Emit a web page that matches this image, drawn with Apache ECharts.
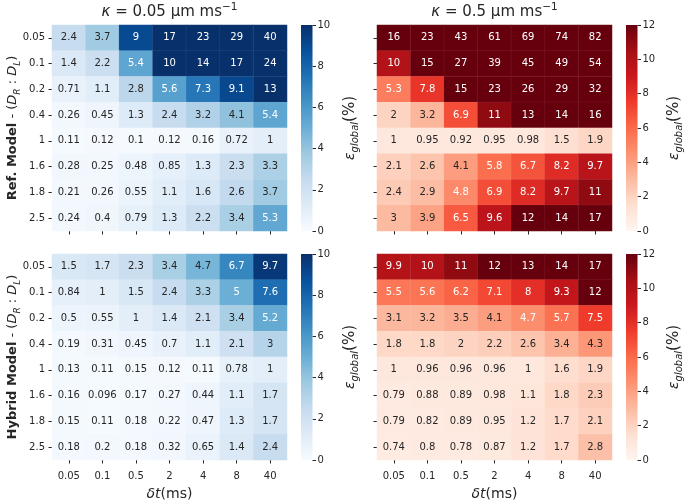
<!DOCTYPE html>
<html><head><meta charset="utf-8">
<script src="https://cdn.jsdelivr.net/npm/echarts@6/dist/echarts.min.js"></script>
<style>html,body{margin:0;padding:0;background:#fff}#c{width:685px;height:503px}</style>
</head><body><div id="c"></div>
<script>
// ---------------- data ----------------
const dtLabels = ['0.05', '0.1', '0.5', '2', '4', '8', '40'];
const ratioLabels = ['0.05', '0.1', '0.2', '0.4', '1', '1.6', '1.8', '2.5'];

const refK005 = [
  [2.4, 3.7, 9, 17, 23, 29, 40],
  [1.4, 2.2, 5.4, 10, 14, 17, 24],
  [0.71, 1.1, 2.8, 5.6, 7.3, 9.1, 13],
  [0.26, 0.45, 1.3, 2.4, 3.2, 4.1, 5.4],
  [0.11, 0.12, 0.1, 0.12, 0.16, 0.72, 1],
  [0.28, 0.25, 0.48, 0.85, 1.3, 2.3, 3.3],
  [0.21, 0.26, 0.55, 1.1, 1.6, 2.6, 3.7],
  [0.24, 0.4, 0.79, 1.3, 2.2, 3.4, 5.3]
];
const refK05 = [
  [16, 23, 43, 61, 69, 74, 82],
  [10, 15, 27, 39, 45, 49, 54],
  [5.3, 7.8, 15, 23, 26, 29, 32],
  [2, 3.2, 6.9, 11, 13, 14, 16],
  [1, 0.95, 0.92, 0.95, 0.98, 1.5, 1.9],
  [2.1, 2.6, 4.1, 5.8, 6.7, 8.2, 9.7],
  [2.4, 2.9, 4.8, 6.9, 8.2, 9.7, 11],
  [3, 3.9, 6.5, 9.6, 12, 14, 17]
];
const hybK005 = [
  [1.5, 1.7, 2.3, 3.4, 4.7, 6.7, 9.7],
  [0.84, 1, 1.5, 2.4, 3.3, 5, 7.6],
  [0.5, 0.55, 1, 1.4, 2.1, 3.4, 5.2],
  [0.19, 0.31, 0.45, 0.7, 1.1, 2.1, 3],
  [0.13, 0.11, 0.15, 0.12, 0.11, 0.78, 1],
  [0.16, 0.096, 0.17, 0.27, 0.44, 1.1, 1.7],
  [0.15, 0.11, 0.18, 0.22, 0.47, 1.3, 1.7],
  [0.18, 0.2, 0.18, 0.32, 0.65, 1.4, 2.4]
];
const hybK05 = [
  [9.9, 10, 11, 12, 13, 14, 17],
  [5.5, 5.6, 6.2, 7.1, 8, 9.3, 12],
  [3.1, 3.2, 3.5, 4.1, 4.7, 5.7, 7.5],
  [1.8, 1.8, 2, 2.2, 2.6, 3.4, 4.3],
  [1, 0.96, 0.96, 0.96, 1, 1.6, 1.9],
  [0.79, 0.88, 0.89, 0.98, 1.1, 1.8, 2.3],
  [0.79, 0.82, 0.89, 0.95, 1.2, 1.7, 2.1],
  [0.74, 0.8, 0.78, 0.87, 1.2, 1.7, 2.8]
];
const vmaxK005 = 10;
const vmaxK05 = 12;
const cbInterval = 2;

// ---------------- styling ----------------
const blues = ['#f7fbff','#deebf7','#c6dbef','#9ecae1','#6baed6','#4292c6','#2171b5','#08519c','#08306b'];
const reds  = ['#fff5f0','#fee0d2','#fcbba1','#fc9272','#fb6a4a','#ef3b2c','#cb181d','#a50f15','#67000d'];
const FONT = 'DejaVu Sans';
const INK = '#262626';

function hex2rgb(h){return [parseInt(h.slice(1,3),16),parseInt(h.slice(3,5),16),parseInt(h.slice(5,7),16)];}
function cmap(stops, t){
  t = Math.max(0, Math.min(1, t));
  const p = t*(stops.length-1), i = Math.min(Math.floor(p), stops.length-2), f = p-i;
  const a = hex2rgb(stops[i]), b = hex2rgb(stops[i+1]);
  return a.map((v,k)=>v+(b[k]-v)*f);
}
function lum(rgb){
  const c = rgb.map(v=>{v/=255;return v<=0.03928? v/12.92 : Math.pow((v+0.055)/1.055,2.4);});
  return 0.2126*c[0]+0.7152*c[1]+0.0722*c[2];
}
function textColor(stops, v, vmax){ return lum(cmap(stops, v/vmax)) > 0.408 ? INK : '#ffffff'; }

const gridL = [52, 377], gridT = [25, 254], gridW = 235, gridH = 206;
const cbL = [301, 626], cbW = 11.5;

const panels = [
  {data: refK005, stops: blues, vmax: vmaxK005, col: 0, row: 0},
  {data: refK05,  stops: reds,  vmax: vmaxK05,  col: 1, row: 0},
  {data: hybK005, stops: blues, vmax: vmaxK005, col: 0, row: 1},
  {data: hybK05,  stops: reds,  vmax: vmaxK05,  col: 1, row: 1}
];

const grid = [], xAxis = [], yAxis = [], series = [], visualMap = [];
panels.forEach((p, i) => {
  grid.push({left: gridL[p.col], top: gridT[p.row], width: gridW, height: gridH});
  xAxis.push({
    type: 'category', gridIndex: i, data: dtLabels, position: 'bottom',
    axisLine: {show: false},
    axisTick: {show: true, alignWithLabel: true, length: 3.5, lineStyle: {color: INK, width: 1}},
    axisLabel: {show: p.row === 1, color: INK, fontFamily: FONT, fontSize: 10, margin: 11},
    splitLine: {show: false}
  });
  yAxis.push({
    type: 'category', gridIndex: i, data: ratioLabels, inverse: true,
    axisLine: {show: false},
    axisTick: {show: true, alignWithLabel: true, length: 3.5, lineStyle: {color: INK, width: 1}},
    axisLabel: {show: p.col === 0, color: INK, fontFamily: FONT, fontSize: 10, margin: 7},
    splitLine: {show: false}
  });
  const d = [];
  p.data.forEach((rowVals, r) => rowVals.forEach((v, c) => {
    d.push({value: [c, r, v], label: {color: textColor(p.stops, v, p.vmax)}});
  }));
  series.push({
    type: 'heatmap', xAxisIndex: i, yAxisIndex: i, data: d,
    itemStyle: {borderColor: 'rgba(255,255,255,0.10)', borderWidth: 0.5},
    label: {show: true, fontFamily: FONT, fontSize: 10, formatter: q => String(q.value[2])},
    emphasis: {disabled: true}, animation: false
  });
  visualMap.push({
    type: 'continuous', show: false, seriesIndex: i, dimension: 2,
    min: 0, max: p.vmax, inRange: {color: p.stops}, outOfRange: {color: [p.stops[p.stops.length-1]]}
  });
});
// colorbars
panels.forEach((p, i) => {
  const gi = 4 + i;
  grid.push({left: cbL[p.col], top: gridT[p.row], width: cbW, height: gridH});
  xAxis.push({type: 'category', gridIndex: gi, data: ['cb'], show: false});
  yAxis.push({
    type: 'value', gridIndex: gi, min: 0, max: p.vmax, interval: cbInterval, position: 'right',
    axisLine: {show: false},
    axisTick: {show: true, length: 3.5, lineStyle: {color: INK, width: 1}},
    axisLabel: {color: INK, fontFamily: FONT, fontSize: 10, margin: 5},
    splitLine: {show: false}
  });
  series.push({
    type: 'bar', xAxisIndex: gi, yAxisIndex: gi, data: [p.vmax], barWidth: '100%', silent: true,
    animation: false,
    itemStyle: {color: new echarts.graphic.LinearGradient(0, 1, 0, 0,
      p.stops.map((c, k) => ({offset: k/(p.stops.length-1), color: c})))}
  });
});

function txt(x, y, text, size, rot, rich){
  return {type: 'text', x: x, y: y, rotation: rot || 0, silent: true,
    style: {text: text, fontFamily: FONT, fontSize: size, fill: INK, align: 'center', verticalAlign: 'middle',
      lineHeight: size + 6, rich: rich}};
}
const titleRich = {
  i: {fontStyle: 'italic', fontFamily: FONT, fontSize: 15, lineHeight: 21},
  n: {fontFamily: FONT, fontSize: 15, lineHeight: 21},
  sup: {fontSize: 10.5, verticalAlign: 'top', fontFamily: FONT, lineHeight: 10}
};
const yRich = {
  b: {fontWeight: 'bold', fontFamily: FONT, fontSize: 13, lineHeight: 19},
  n: {fontFamily: FONT, fontSize: 13, lineHeight: 19},
  i: {fontStyle: 'italic', fontFamily: FONT, fontSize: 13, lineHeight: 19},
  sub: {fontStyle: 'italic', fontFamily: FONT, fontSize: 9, verticalAlign: 'bottom', lineHeight: 9}
};
const cbRich = {
  e: {fontStyle: 'italic', fontFamily: FONT, fontSize: 14, lineHeight: 20},
  sub: {fontStyle: 'italic', fontFamily: FONT, fontSize: 10, verticalAlign: 'bottom', lineHeight: 10},
  p: {fontFamily: FONT, fontSize: 15, lineHeight: 20}
};
const xRich = {
  i: {fontStyle: 'italic', fontFamily: FONT, fontSize: 14, lineHeight: 18},
  n: {fontFamily: FONT, fontSize: 14, lineHeight: 18}
};
const R90 = Math.PI / 2;
const graphic = [
  txt(gridL[0] + gridW/2, 12, '{i|κ}{n| = 0.05 μm ms}{sup|−1}', 15, 0, titleRich),
  txt(gridL[1] + gridW/2, 12, '{i|κ}{n| = 0.5 μm ms}{sup|−1}', 15, 0, titleRich),
  txt(13, gridT[0] + gridH/2, '{b|Ref. Model}{n| - (}{i|D}{sub|R}{n| : }{i|D}{sub|L}{n|)}', 13, R90, yRich),
  txt(13, gridT[1] + gridH/2, '{b|Hybrid Model}{n| - (}{i|D}{sub|R}{n| : }{i|D}{sub|L}{n|)}', 13, R90, yRich),
  txt(350, gridT[0] + gridH/2, '{e|ε}{sub|global}{p|(%)}', 14, R90, cbRich),
  txt(350, gridT[1] + gridH/2, '{e|ε}{sub|global}{p|(%)}', 14, R90, cbRich),
  txt(674, gridT[0] + gridH/2, '{e|ε}{sub|global}{p|(%)}', 14, R90, cbRich),
  txt(674, gridT[1] + gridH/2, '{e|ε}{sub|global}{p|(%)}', 14, R90, cbRich),
  txt(gridL[0] + gridW/2, 494, '{i|δt}{n|(ms)}', 14, 0, xRich),
  txt(gridL[1] + gridW/2, 494, '{i|δt}{n|(ms)}', 14, 0, xRich)
];

const chart = echarts.init(document.getElementById('c'), null, {renderer: 'canvas'});
chart.setOption({animation: false, grid, xAxis, yAxis, series, visualMap, graphic});
</script>
</body></html>
